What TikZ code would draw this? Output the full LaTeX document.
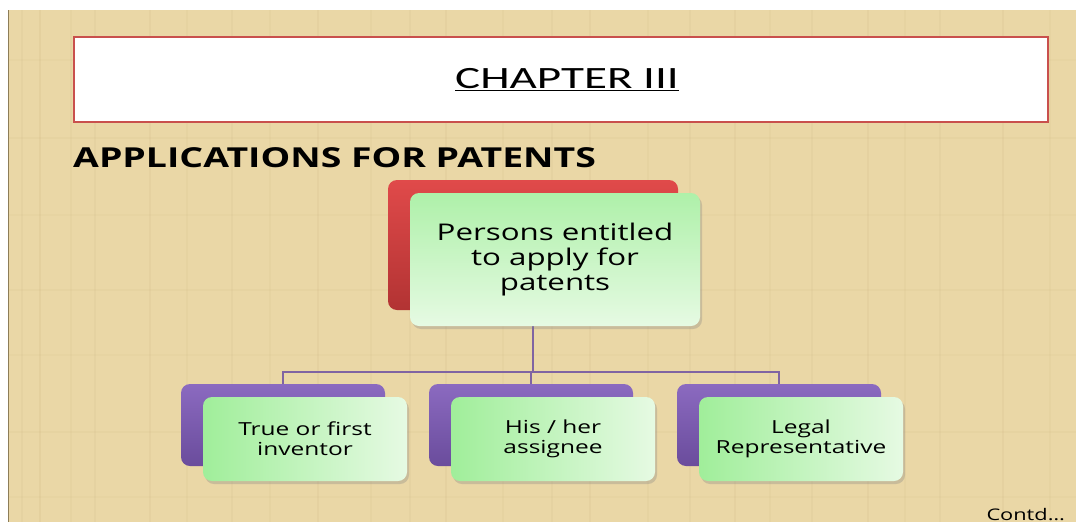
\documentclass[tikz,border=0pt]{standalone}
\usepackage{fontspec}
\setmainfont[FakeStretch=1.36]{Open Sans}
\newfontfamily\chapfont[FakeStretch=1.52]{Carlito}
\usetikzlibrary{
  chains,
  positioning,
  scopes,
  shadows
}

\definecolor{papyrus}{HTML}{EAD7A6}
\definecolor{papyrusdark}{HTML}{C9B27E}
\definecolor{titlered}{HTML}{C9504D}
\definecolor{boxred}{HTML}{E04A4A}
\definecolor{boxreddark}{HTML}{B23333}
\definecolor{boxpurple}{HTML}{8B6AC0}
\definecolor{boxpurpledark}{HTML}{6A4C9C}
\definecolor{linepurple}{HTML}{8064A2}
\definecolor{leafgreen}{HTML}{A0EE9A}
\definecolor{leafpale}{HTML}{E6FAE3}

\begin{document}
\begin{tikzpicture}[x=1pt,y=-1pt,
      backbox/.style={
         rectangle,
         rounded corners=9pt,
         inner sep=0pt,
         minimum width=204pt,
         minimum height=82pt
      },
      leadback/.style={
         backbox,
         minimum width=290pt,
         minimum height=130pt,
         top color=boxred,bottom color=boxreddark
      },
      kindback/.style={
         backbox,
         top color=boxpurple,bottom color=boxpurpledark
      },
      frontbox/.style={
         backbox,
         align=center,
         left color=leafgreen,right color=leafpale,
         drop shadow={shadow xshift=2pt,shadow yshift=-3pt,opacity=0.3},
         font=\fontsize{18}{20}\selectfont,
         minimum height=84pt
      },
      leadfront/.style={
         frontbox,
         minimum width=290pt,
         minimum height=133pt,
         top color=leafgreen!85,bottom color=leafpale,
         font=\fontsize{23}{25}\selectfont
      },
      drop line/.style={
         to path={-- ++(0,#1) -| (\tikztotarget)}
      },
      every join/.style={draw=linepurple,line width=2.2pt},
    ]
    % paper
    \useasboundingbox (0,0) rectangle (1076,522);
    \fill[papyrus] (8,10) rectangle (1076,522);
    \foreach \x/\o in {22/.12,40/.18,71/.1,95/.12,150/.15,187/.1,232/.12,
                       270/.1,318/.15,371/.1,410/.12,446/.15,503/.1,
                       552/.12,590/.15,648/.1,690/.12,735/.15,770/.1,
                       812/.12,868/.15,905/.1,940/.12,1003/.15,1050/.1}
       \draw[papyrusdark,line width=1.5pt,opacity=\o] (\x,10) -- (\x,522);
    \foreach \y/\o in {60/.08,138/.1,215/.08,290/.1,355/.08,432/.1,497/.08}
       \draw[papyrusdark,line width=1.5pt,opacity=\o] (8,\y) -- (1076,\y);
    \draw[papyrusdark!70!black,line width=1pt] (8.5,10) -- (8.5,522);

    % title
    \node (title) [draw=titlered,line width=2pt,fill=white,inner sep=0pt,
                   minimum width=974pt,minimum height=85pt] at (561,79.5) {};
    \node (chapter) [font=\chapfont\fontsize{31}{31}\selectfont] at (567,80)
       {\underline{CHAPTER III}};
    \node (heading) [anchor=base west,inner sep=0pt,
                     font=\bfseries\fontsize{27.5}{27.5}\selectfont] at (73,167)
       {APPLICATIONS FOR PATENTS};

    % back boxes
    \node (lead)  [leadback] at (533,245) {};
    \node (kind1) [kindback] at (283,425) {};
    \node (kind2) [kindback] at (531,425) {};
    \node (kind3) [kindback] at (779,425) {};

    % tree lines
  { [start chain]
       \chainin (lead);
       \chainin (kind1)    [join=by {drop line=127}];
  }
  { [start chain]
       \chainin (lead);
       \chainin (kind2)    [join=by {drop line=127}];
  }
  { [start chain]
       \chainin (lead);
       \chainin (kind3)    [join=by {drop line=127}];
  }

    % front boxes
    \node (persons)  [leadfront] at ([shift={(22,14.5)}]lead.center)
       {Persons entitled\\to apply for\\patents};
    \node (inventor) [frontbox] at ([shift={(22,14)}]kind1.center)
       {True or first\\inventor};
    \node (assignee) [frontbox] at ([shift={(22,14)}]kind2.center)
       {His / her\\assignee};
    \node (legalrep) [frontbox] at ([shift={(22,14)}]kind3.center)
       {Legal\\Representative};

    \node (contd) [anchor=base east,inner sep=0pt,
                   font=\fontsize{16}{16}\selectfont] at (1065,520) {Contd\dots};
\end{tikzpicture}
\end{document}
